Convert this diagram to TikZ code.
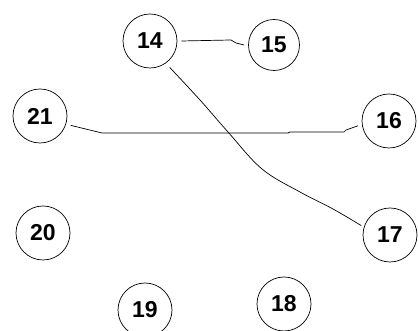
\documentclass[tikz,border=0pt]{standalone}
\usepackage{fontspec}
\setmainfont{Liberation Sans}
\begin{document}
\begin{tikzpicture}[x=1pt,y=1pt,
  vertex/.style={circle,draw,line width=0.7pt,minimum size=54pt,inner sep=0pt,font=\fontsize{23}{23}\selectfont\bfseries},
  link/.style={line width=0.7pt}]
\useasboundingbox (0,0) rectangle (418,331);
\node[vertex] (n14) at (150,290) {14};
\node[vertex,minimum size=51pt] (n15) at (274,286) {15};
\node[vertex] (n16) at (389,210) {16};
\node[vertex] (n21) at (40,215) {21};
\node[vertex] (n20) at (43,98) {20};
\node[vertex] (n17) at (390,96) {17};
\node[vertex] (n19) at (145,21) {19};
\node[vertex] (n18) at (284,27) {18};
\draw[link] ([xshift=4pt]n14.east) -- (231,291) -- (236,288) -- ([xshift=-4pt]n15.west);
\draw[link] ([xshift=5pt]n21.-20) -- (102,198) -- (288,198) -- (290,199) -- (344,199) -- (346,201) -- ([xshift=-4pt]n16.190);
\draw[link] plot[smooth,tension=0.6] coordinates {([shift={(4pt,-4pt)}]n14.-55) (200,231) (228,199) (262,162) (300,139) (333,122) ([xshift=-3pt]n17.160)};
\end{tikzpicture}
\end{document}
